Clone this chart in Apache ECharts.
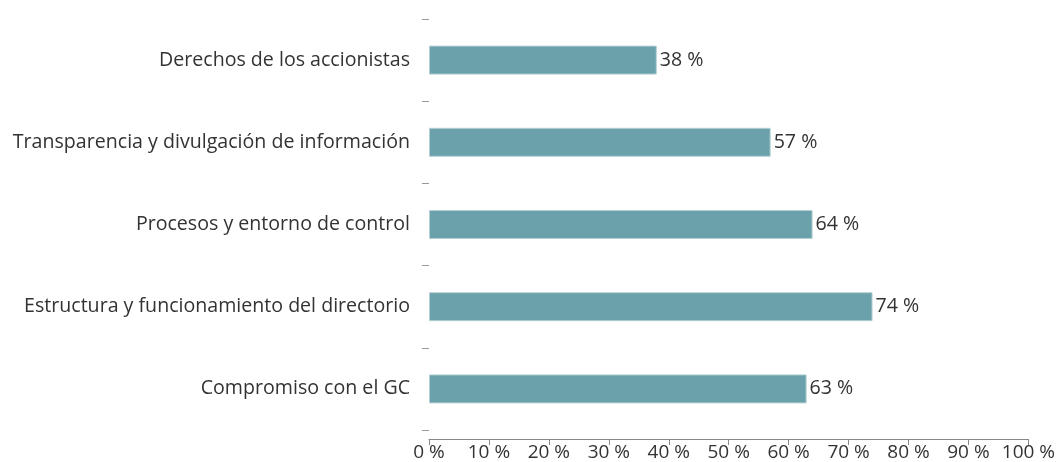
<!DOCTYPE html>
<html>
<head>
<meta charset="utf-8">
<script src="https://cdn.jsdelivr.net/npm/echarts@6/dist/echarts.min.js"></script>
<style>
  html, body { margin: 0; padding: 0; background: #fff; }
  #chart { width: 1058px; height: 462px; }
</style>
</head>
<body>
<div id="chart"></div>
<script>
// categorías, de arriba hacia abajo
const categories = [
  'Derechos de los accionistas',
  'Transparencia y divulgación de información',
  'Procesos y entorno de control',
  'Estructura y funcionamiento del directorio',
  'Compromiso con el GC'
]
const values = [38, 57, 64, 74, 63]
const xTicks = [0, 10, 20, 30, 40, 50, 60, 70, 80, 90, 100]

const font = '"Open Sans", "Noto Sans", sans-serif'
const chart = echarts.init(document.getElementById('chart'))

chart.setOption({
  animation: false,
  grid: { left: 429, right: 29, top: 19, bottom: 30 },
  xAxis: {
    type: 'value',
    min: xTicks[0],
    max: xTicks[xTicks.length - 1],
    interval: 10,
    offset: 9,
    splitLine: { show: false },
    axisLine: { show: true, lineStyle: { color: '#888', width: 1 } },
    axisTick: { show: true, length: 6, lineStyle: { color: '#888' } },
    axisLabel: {
      formatter: v => v + ' %',
      color: '#333',
      fontSize: 19,
      fontFamily: font,
      margin: 4
    }
  },
  yAxis: {
    type: 'category',
    data: categories,
    inverse: true,
    axisLine: { show: false },
    axisTick: { show: true, length: 7, lineStyle: { color: '#999' } },
    axisLabel: {
      color: '#333',
      fontSize: 19.6,
      fontFamily: font,
      margin: 19
    }
  },
  series: [
    {
      type: 'bar',
      data: values,
      barWidth: 29,
      itemStyle: { color: '#6aa1aa', borderColor: '#b5d0d4', borderWidth: 1 },
      label: {
        show: true,
        position: 'right',
        distance: 3,
        formatter: '{c} %',
        color: '#333',
        fontSize: 19.6,
        fontFamily: font
      }
    }
  ]
})
</script>
</body>
</html>
